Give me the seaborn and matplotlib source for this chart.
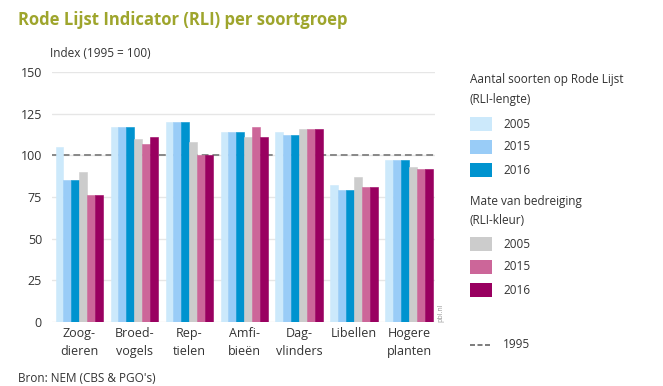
import pandas as pd
import matplotlib.pyplot as plt
import matplotlib.patches as mpatches
import matplotlib.lines as mlines
import seaborn as sns

groups = ["Zoog-\ndieren", "Broed-\nvogels", "Rep-\ntielen", "Amfi-\nbieën",
          "Dag-\nvlinders", "Libellen", "Hogere\nplanten"]
series = ["L2005", "L2015", "L2016", "K2005", "K2015", "K2016"]
years = ["2005", "2015", "2016"]

lengte_2005 = [105, 117, 120, 114, 114, 82, 97]
lengte_2015 = [85, 117, 120, 114, 112, 79, 97]
lengte_2016 = [85, 117, 120, 114, 112, 79, 97]
kleur_2005 = [90, 110, 108, 111, 116, 87, 93]
kleur_2015 = [76, 107, 100, 117, 116, 81, 92]
kleur_2016 = [76, 111, 100, 111, 116, 81, 92]

colors = ["#cce9fb", "#99ccf7", "#0093cf", "#cccccc", "#cc6699", "#990060"]
txt = "#333333"

df = pd.DataFrame({
    "groep": groups * 6,
    "reeks": [s for s in series for _ in groups],
    "index": lengte_2005 + lengte_2015 + lengte_2016 + kleur_2005 + kleur_2015 + kleur_2016,
})

sns.set_style("white")
plt.rcParams["font.family"] = ["Open Sans", "DejaVu Sans"]

fig = plt.figure(figsize=(6.63, 3.86), dpi=100)
ax = fig.add_axes([0.078, 0.166, 0.578, 0.647])

sns.barplot(data=df, x="groep", y="index", hue="reeks", hue_order=series,
            palette=colors, width=0.86, gap=0, saturation=1, linewidth=0,
            legend=False, ax=ax, zorder=2)
# close the thin seams between touching bars
for p in ax.patches:
    p.set_edgecolor(p.get_facecolor())
    p.set_linewidth(0.4)

ax.set_ylim(0, 150)
ax.set_yticks(range(0, 151, 25))
ax.set_xlim(-0.5, 6.47)
ax.yaxis.grid(True, color="#e6e6e6", linewidth=1, zorder=0)
ax.set_axisbelow(True)
ax.axhline(100, color="#888888", linestyle=(0, (3.5, 2)), linewidth=1.4, zorder=1)
for s in ax.spines.values():
    s.set_visible(False)
ax.tick_params(axis="x", length=0, labelsize=9, colors=txt, pad=4)
ax.tick_params(axis="y", length=4, width=1, color="#cccccc", labelsize=9,
               labelcolor=txt, pad=3)
for lab in ax.get_xticklabels():
    lab.set_linespacing(1.45)
ax.set_xlabel("")
ax.set_ylabel("")

fig.text(0.027, 0.948, "Rode Lijst Indicator (RLI) per soortgroep", fontsize=12,
         fontweight="bold", color="#9ea52c", va="center")
fig.text(0.076, 0.862, "Index (1995 = 100)", fontsize=8.5, color=txt, va="center")
fig.text(0.027, 0.02, "Bron: NEM (CBS & PGO's)", fontsize=8.5, color=txt, va="center")
fig.text(0.66, 0.19, "pbl.nl", fontsize=5, color="#999999", rotation=90, va="center")

# legend, drawn by hand in pixel positions of the figure
W, H = 663, 386

def fy(y):
    return 1 - y / H

lx = 470 / W
fig.text(lx, fy(80), "Aantal soorten op Rode Lijst", fontsize=8.5, color=txt, va="center")
fig.text(lx, fy(99), "(RLI-lengte)", fontsize=8.5, color=txt, va="center")
fig.text(lx, fy(202), "Mate van bedreiging", fontsize=8.5, color=txt, va="center")
fig.text(lx, fy(221), "(RLI-kleur)", fontsize=8.5, color=txt, va="center")
ys = [124, 147, 170, 244, 267, 290]
for c, y, lab in zip(colors, ys, years * 2):
    fig.add_artist(mpatches.Rectangle((lx, fy(y + 7)), 22 / W, 14 / H,
                                      facecolor=c, edgecolor="none",
                                      transform=fig.transFigure))
    fig.text(503 / W, fy(y), lab, fontsize=8.5, color=txt, va="center")
fig.add_artist(mlines.Line2D([lx, 492 / W], [fy(345), fy(345)], color="#666666",
                             linestyle=(0, (3, 1.5)), linewidth=1.2,
                             transform=fig.transFigure))
fig.text(503 / W, fy(345), "1995", fontsize=8.5, color=txt, va="center")

fig.savefig("out.png", dpi=100)
